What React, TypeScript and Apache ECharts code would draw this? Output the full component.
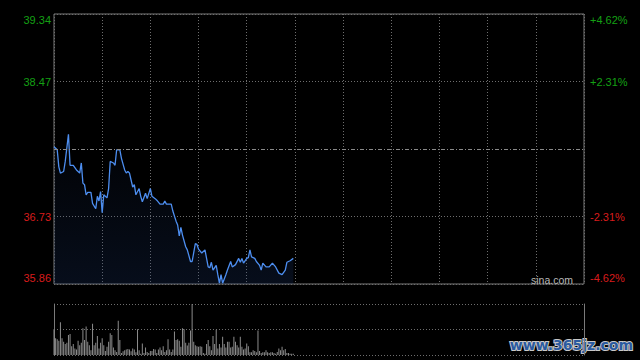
import React, { useEffect, useRef } from "react";
import * as echarts from "echarts";

const prevClose = 37.6;
const priceTicks = [35.86, 36.73, 38.47, 39.34];
const leftTickLabels = ["35.86", "36.73", "38.47", "39.34"];
const rightTickLabels = ["-4.62%", "-2.31%", "+2.31%", "+4.62%"];

// minutes since 9:30 (HK session: 330 trading minutes)
const minutes = [
  0, 2, 3, 4, 6, 7, 9, 10, 12, 14, 16, 17, 18, 19, 20, 21, 23, 24, 26, 27, 28, 29, 30, 31, 33, 34, 35, 37, 38, 39,
  41, 42, 44, 45, 46, 47, 49, 50, 51, 53, 54, 55, 57, 58, 60, 61, 63, 64, 66, 68, 69, 70, 73, 74, 76, 77, 78, 79, 80,
  82, 83, 85, 86, 88, 89, 90, 92, 94, 96, 97, 98, 99, 101, 102, 103, 104, 105, 107, 108, 110, 111, 113, 115, 116, 117,
  118, 120, 121, 122, 123, 125, 126, 128, 129, 130, 132, 134, 136, 138, 140, 142, 144, 145, 147, 149,
];
const prices = [
  37.63, 37.59, 37.37, 37.29, 37.31, 37.44, 37.79, 37.39, 37.39, 37.33, 37.29, 37.42, 37.16, 37.14, 37.01, 37.04,
  37.04, 36.9, 36.83, 36.99, 36.93, 37.05, 36.78, 37.01, 36.97, 37.09, 37.44, 37.42, 37.39, 37.59, 37.59, 37.48,
  37.33, 37.29, 37.31, 37.29, 37.11, 37.14, 37.01, 37.09, 36.99, 36.92, 37.03, 36.96, 37.09, 36.99, 36.96, 36.94,
  36.89, 36.89, 36.93, 36.89, 36.89, 36.8, 36.67, 36.62, 36.48, 36.59, 36.49, 36.34, 36.3, 36.15, 36.15, 36.38,
  36.37, 36.31, 36.26, 36.3, 36.08, 36.07, 36.14, 36.04, 36.1, 35.98, 35.87, 35.98, 35.87, 35.98, 36.04, 36.15,
  36.08, 36.11, 36.19, 36.14, 36.19, 36.13, 36.19, 36.2, 36.3, 36.21, 36.19, 36.15, 36.1, 36.04, 36.13, 36.08,
  36.08, 36.13, 36.08, 36.0, 35.98, 36.04, 36.14, 36.16, 36.19,
];
// per-minute volume (relative units)
const volumes = [
  76, 49, 46, 42, 96, 49, 39, 32, 36, 59, 62, 26, 32, 19, 16, 42, 29, 36, 79, 44, 84, 39, 29, 14, 92, 29, 36, 56, 19,
  36, 49, 29, 12, 24, 39, 64, 59, 22, 14, 9, 101, 44, 6, 11, 14, 16, 18, 16, 11, 19, 16, 8, 76, 14, 4, 34, 6, 22, 9,
  6, 12, 12, 18, 16, 6, 16, 22, 14, 26, 9, 14, 46, 16, 9, 16, 69, 44, 46, 42, 24, 79, 76, 36, 28, 36, 72, 150, 39, 29,
  26, 24, 26, 24, 6, 4, 32, 44, 26, 14, 56, 32, 74, 19, 32, 22, 54, 32, 22, 39, 39, 22, 24, 54, 39, 29, 22, 54, 24,
  16, 19, 34, 26, 8, 8, 14, 12, 8, 72, 12, 6, 8, 8, 14, 8, 6, 8, 8, 6, 4, 9, 19, 14, 24, 14, 18, 6, 6, 4, 4, 4,
];

const GREEN = "#14a014";
const RED = "#d81c1c";
const FONT = "'Liberation Sans', Arial, sans-serif";
const GRIDC = "#6e6e6e";

function tickIndex(v: number) {
  return priceTicks.findIndex((t) => Math.abs(t - v) < 1e-6);
}

function richStyles() {
  const base = { fontSize: 11, fontFamily: FONT };
  return {
    gt: { ...base, color: GREEN, padding: [12, 0, 0, 0] },
    g: { ...base, color: GREEN },
    r: { ...base, color: RED },
    rb: { ...base, color: RED, padding: [0, 0, 12, 0] },
  };
}
function styleKey(i: number) {
  return i === 3 ? "gt" : i === 2 ? "g" : i === 1 ? "r" : "rb";
}

export default function App() {
  const ref = useRef<HTMLDivElement>(null);
  useEffect(() => {
    const chart = echarts.init(ref.current!, undefined, { renderer: "svg" });
    const dotted = { color: GRIDC, type: [1, 2] as any, width: 1 };
    chart.setOption({
      animation: false,
      backgroundColor: "#000",
      grid: [
        { left: 54, right: 56, top: 14, height: 270, show: true, borderColor: "#7a7a7a", borderWidth: 1, backgroundColor: "transparent" },
        { left: 54, right: 56, top: 304, height: 51 },
      ],
      xAxis: [
        {
          type: "value", gridIndex: 0, min: 0, max: 330, interval: 30,
          axisLine: { show: false }, axisTick: { show: false }, axisLabel: { show: false },
          splitLine: { show: true, lineStyle: dotted },
        },
        {
          type: "value", gridIndex: 1, min: 0, max: 330, interval: 30,
          axisLine: { show: false }, axisTick: { show: false }, axisLabel: { show: false },
          splitLine: { show: false },
        },
      ],
      yAxis: [
        {
          type: "value", gridIndex: 0, min: 35.86, max: 39.34, position: "left",
          axisLine: { show: false },
          axisTick: { show: false, customValues: priceTicks },
          axisLabel: {
            customValues: priceTicks, margin: 3, fontFamily: FONT, fontSize: 11,
            formatter: (v: number) => {
              const i = tickIndex(v);
              return i < 0 ? "" : `{${styleKey(i)}|${leftTickLabels[i]}}`;
            },
            rich: richStyles(),
          },
          splitLine: { show: true, lineStyle: dotted },
        },
        {
          type: "value", gridIndex: 0, min: 35.86, max: 39.34, position: "right",
          axisLine: { show: false },
          axisTick: { show: false, customValues: priceTicks },
          axisLabel: {
            customValues: priceTicks, margin: 6, fontFamily: FONT, fontSize: 11,
            formatter: (v: number) => {
              const i = tickIndex(v);
              return i < 0 ? "" : `{${styleKey(i)}|${rightTickLabels[i]}}`;
            },
            rich: richStyles(),
          },
          splitLine: { show: false },
        },
        {
          type: "value", gridIndex: 1, min: 0, max: 150, interval: 75, position: "left",
          axisLine: { show: true, lineStyle: { color: "#7a7a7a", width: 1 } },
          axisTick: { show: false }, axisLabel: { show: false },
          splitLine: { show: true, lineStyle: dotted },
        },
        {
          type: "value", gridIndex: 1, min: 0, max: 150, interval: 75, position: "right",
          axisLine: { show: true, lineStyle: { color: "#7a7a7a", width: 1 } },
          axisTick: { show: false }, axisLabel: { show: false },
          splitLine: { show: false },
        },
      ],
      series: [
        {
          type: "line", xAxisIndex: 0, yAxisIndex: 0,
          data: minutes.map((m, i) => [m, prices[i]]),
          showSymbol: false, symbol: "none",
          lineStyle: { color: "#4d8ef0", width: 1.3 },
          areaStyle: {
            origin: "start",
            color: new echarts.graphic.LinearGradient(0, 0, 0, 1, [
              { offset: 0, color: "rgba(30,60,120,0.05)" },
              { offset: 1, color: "rgba(30,60,120,0.32)" },
            ]),
          },
          markLine: {
            silent: true, symbol: "none", label: { show: false },
            lineStyle: { color: "#8a8a8a", type: [4, 2, 1, 2], width: 1 },
            data: [{ yAxis: prevClose }],
          },
        },
        {
          type: "bar", xAxisIndex: 1, yAxisIndex: 2,
          data: volumes.map((v, i) => [i, v]),
          barWidth: 1,
          itemStyle: { color: "#8c8c8c" },
        },
      ],
      graphic: [
        {
          type: "text", right: 67, top: 274,
          style: { text: "sina.com", fill: "#b8b8b8", font: `10.5px ${FONT}` },
          silent: true,
        },
        {
          type: "text", right: 6, top: 337,
          style: {
            text: "www.365jz.com", fill: "#2a5aa0", font: `bold 14px 'DejaVu Sans', sans-serif`,
            stroke: "#c8c8c8", lineWidth: 2,
          },
          silent: true,
        },
      ],
    });
    return () => chart.dispose();
  }, []);
  return (
    <div
      ref={ref}
      style={{ position: "absolute", left: 0, top: 0, width: 640, height: 360, background: "#000" }}
    />
  );
}
